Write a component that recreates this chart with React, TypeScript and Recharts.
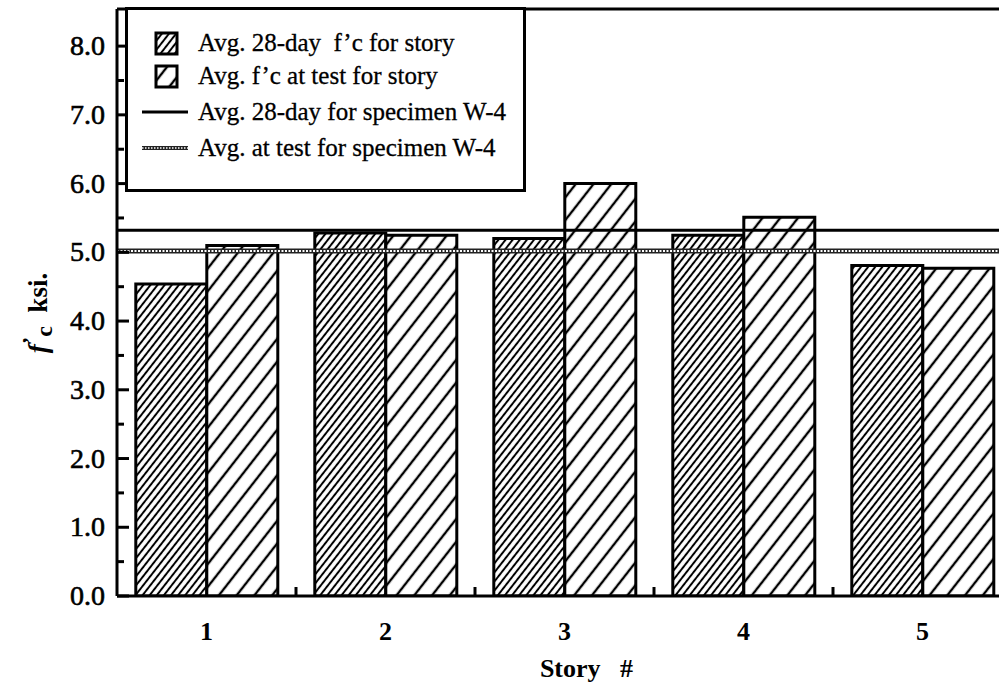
import { Bar, BarChart, Label, ReferenceLine, XAxis, YAxis } from 'recharts';

const stories = ['1', '2', '3', '4', '5'];
const avg28Day = [4.54, 5.28, 5.2, 5.25, 4.81];
const avgAtTest = [5.1, 5.25, 6.0, 5.51, 4.77];
const specimen28Day = 5.32;
const specimenAtTest = 5.02;
const yTicks = [0, 0.5, 1, 1.5, 2, 2.5, 3, 3.5, 4, 4.5, 5, 5.5, 6, 6.5, 7, 7.5, 8];
const yMax = 8.54;
const legendLabels = [
    'Avg. 28-day\u00a0 f\u2019c for story',
    'Avg. f\u2019c at test for story',
    'Avg. 28-day for specimen W-4',
    'Avg. at test for specimen W-4',
];

const data = stories.map((story, i) => ({
    story,
    day28: avg28Day[i],
    atTest: avgAtTest[i],
}));

const FONT = '"Liberation Serif", "Times New Roman", serif';
const CHART_W = 1016;
const CHART_H = 689;
const MARGIN = { top: 9, right: 4, bottom: 0, left: 0 };
const Y_AXIS_W = 117;
const BAND = (CHART_W - MARGIN.right - Y_AXIS_W) / stories.length;

function YTick({ x, y, payload }: any) {
    const major = Number.isInteger(payload.value);
    return (
        <g>
            <line x1={x} x2={x + (major ? 12 : 7)} y1={y} y2={y} stroke="#000" strokeWidth={3} />
            {major && (
                <text x={x - 12} y={y} dy={9} textAnchor="end" fontFamily={FONT} fontSize={28} fill="#000" stroke="#000" strokeWidth={0.6}>
                    {payload.value.toFixed(1)}
                </text>
            )}
        </g>
    );
}

function XTick({ x, y, payload, index }: any) {
    return (
        <g>
            {index < stories.length - 1 && (
                <line x1={x + BAND / 2} x2={x + BAND / 2} y1={y} y2={y - 9} stroke="#000" strokeWidth={3} />
            )}
            <text x={x} y={y + 44} textAnchor="middle" fontFamily={FONT} fontSize={26} fontWeight="bold" fill="#000">
                {payload.value}
            </text>
        </g>
    );
}

function XTitle({ viewBox }: any) {
    const cx = viewBox.x + viewBox.width / 2 + 22;
    return (
        <text x={cx} y={677} textAnchor="middle" fontFamily={FONT} fontSize={26} fontWeight="bold" fill="#000" style={{ whiteSpace: 'pre' }}>
            {'Story   #'}
        </text>
    );
}

function YTitle() {
    return (
        <text transform="translate(47,313) rotate(-90)" textAnchor="middle" fontFamily={FONT} fontSize={27} fontWeight="bold" fill="#000">
            <tspan fontStyle="italic">f</tspan>
            <tspan dy={-10} fontSize={22}>{'\u2019'}</tspan>
            <tspan dy={15} fontSize={24}>c</tspan>
            <tspan dy={-5} style={{ whiteSpace: 'pre' }}>{'  ksi.'}</tspan>
        </text>
    );
}

function Patterns() {
    return (
        <svg width={0} height={0} style={{ position: 'absolute' }}>
            <defs>
                <pattern id="hatchDense" patternUnits="userSpaceOnUse" width={5.6} height={5.6} patternTransform="rotate(38)">
                    <rect width={5.6} height={5.6} fill="#fff" />
                    <line x1={2.8} x2={2.8} y1={0} y2={5.6} stroke="#000" strokeWidth={2} />
                </pattern>
                <pattern id="hatchSparse" patternUnits="userSpaceOnUse" width={14} height={14} patternTransform="rotate(38)">
                    <rect width={14} height={14} fill="#fff" />
                    <line x1={7} x2={7} y1={0} y2={14} stroke="#000" strokeWidth={2.4} />
                </pattern>
            </defs>
        </svg>
    );
}

function LegendBox() {
    const rowTops = [43, 76, 112, 148];
    return (
        <div
            style={{
                position: 'absolute',
                left: 125,
                top: 7,
                width: 401,
                height: 185,
                boxSizing: 'border-box',
                border: '3px solid #000',
                background: '#fff',
                fontFamily: FONT,
                fontSize: 25,
                color: '#000',
                WebkitTextStroke: '0.3px #000',
            }}
        >
            {legendLabels.map((label, i) => (
                <div key={label} style={{ position: 'absolute', left: 0, top: rowTops[i] - 7 - 3 - 16, height: 32, width: 396, display: 'flex', alignItems: 'center' }}>
                    <svg width={70} height={32} style={{ flex: 'none' }}>
                        {i < 2 && (
                            <rect x={28} y={6} width={21} height={21} fill={i === 0 ? 'url(#hatchDense)' : 'url(#hatchSparse)'} stroke="#000" strokeWidth={3} />
                        )}
                        {i === 2 && <line x1={14} x2={60} y1={16} y2={16} stroke="#000" strokeWidth={3} />}
                        {i === 3 && (
                            <g>
                                <line x1={14} x2={60} y1={16} y2={16} stroke="#222" strokeWidth={4} />
                                <line x1={14} x2={60} y1={16} y2={16} stroke="#fff" strokeWidth={1.5} strokeDasharray="1.5 1.5" />
                            </g>
                        )}
                    </svg>
                    <span style={{ whiteSpace: 'pre' }}>{label}</span>
                </div>
            ))}
        </div>
    );
}

export default function App() {
    return (
        <div style={{ position: 'fixed', left: 0, top: 0, width: 999, height: 689, overflow: 'hidden', background: '#fff' }}>
            <Patterns />
            <BarChart width={CHART_W} height={CHART_H} data={data} margin={MARGIN} barCategoryGap="10.5%" barGap={0}>
                <XAxis
                    dataKey="story"
                    height={CHART_H - MARGIN.top - 587}
                    axisLine={{ stroke: '#000', strokeWidth: 3 }}
                    tickLine={false}
                    tickSize={0}
                    tickMargin={0}
                    tick={<XTick />}
                    interval={0}
                >
                    <Label content={<XTitle />} />
                </XAxis>
                <YAxis
                    width={Y_AXIS_W}
                    domain={[0, yMax]}
                    ticks={yTicks}
                    allowDataOverflow
                    axisLine={{ stroke: '#000', strokeWidth: 3 }}
                    tickLine={false}
                    tickSize={0}
                    tickMargin={0}
                    tick={<YTick />}
                    interval={0}
                >
                    <Label content={<YTitle />} />
                </YAxis>
                <Bar dataKey="day28" fill="url(#hatchDense)" stroke="#000" strokeWidth={3} isAnimationActive={false} />
                <Bar dataKey="atTest" fill="url(#hatchSparse)" stroke="#000" strokeWidth={3} isAnimationActive={false} />
                <ReferenceLine y={yMax} stroke="#000" strokeWidth={3} />
                <ReferenceLine y={specimen28Day} stroke="#000" strokeWidth={3} />
                <ReferenceLine y={specimenAtTest} stroke="#222" strokeWidth={5} />
                <ReferenceLine y={specimenAtTest} stroke="#fff" strokeWidth={2} strokeDasharray="2 1.5" />
            </BarChart>
            <LegendBox />
        </div>
    );
}
